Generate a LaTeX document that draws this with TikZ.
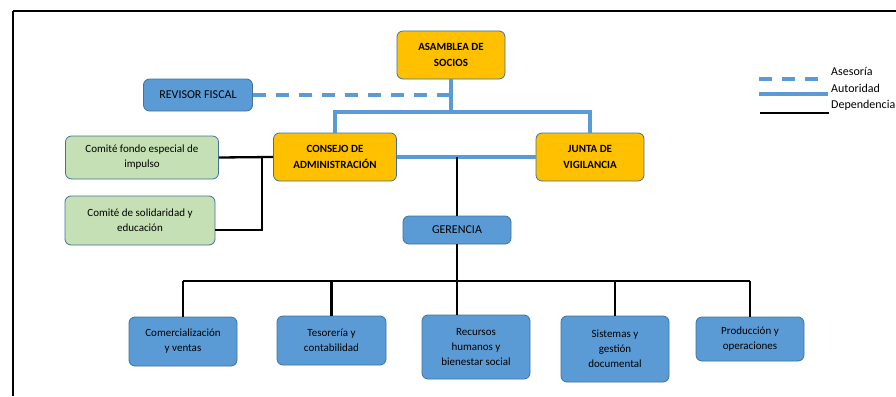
\documentclass[tikz,border=0pt]{standalone}
\usepackage{fontspec}
\setmainfont{Carlito}
\usetikzlibrary{positioning}
\usepackage{xcolor}
\definecolor{oro}{HTML}{FFC000}
\definecolor{azul}{HTML}{5B9BD5}
\definecolor{verde}{HTML}{C5E0B4}
\definecolor{borde}{HTML}{41719C}

\begin{document}
\begin{tikzpicture}[x=1pt,y=-1pt]
      \tikzstyle{caja} = [rectangle, rounded corners=6pt, draw=borde, line width=0.8pt, align=center, inner sep=2pt, font=\fontsize{11}{15}\selectfont]
      \tikzstyle{organo} = [caja, fill=oro, font=\bfseries\fontsize{11}{16.5}\selectfont]
      \tikzstyle{area} = [caja, fill=azul]
      \tikzstyle{comite} = [caja, fill=verde]
      \tikzstyle{autoridad} = [azul, line width=3.2pt]
      \tikzstyle{asesoria} = [azul, line width=3.2pt, dash pattern=on 13pt off 10pt]
      \tikzstyle{dependencia} = [black, line width=2.3pt]

      \useasboundingbox (0,0) rectangle (896,396);
      \draw[line width=2.5pt] (896,11) -- (13,11);
      \draw[line width=1.3pt] (13,11) -- (13,396);

      % organos
      \node[organo, minimum width=108pt, minimum height=48pt] (asamblea) at (451,55) {ASAMBLEA DE\\SOCIOS};
      \node[area, minimum width=109pt, minimum height=32pt, font=\fontsize{12}{15}\selectfont] (revisor) at (198,95) {REVISOR FISCAL};
      \node[organo, minimum width=123pt, minimum height=48pt] (consejo) at (335,157) {CONSEJO DE\\ADMINISTRACIÓN};
      \node[organo, minimum width=108pt, minimum height=48pt] (junta) at (590,157) {JUNTA DE\\VIGILANCIA};
      \node[comite, minimum width=153pt, minimum height=43pt] (fondo) at (142,157.5) {Comité fondo especial de\\impulso};
      \node[comite, minimum width=150pt, minimum height=49pt] (solidaridad) at (140,220.5) {Comité de solidaridad y\\educación};
      \node[area, minimum width=108pt, minimum height=28pt, font=\fontsize{12}{15}\selectfont] (gerencia) at (457,230) {GERENCIA};

      % areas
      \node[area, minimum width=108pt, minimum height=49pt] (comercial) at (183,341.5) {Comercialización\\y ventas};
      \node[area, minimum width=109pt, minimum height=49pt] (tesoreria) at (331.5,340.5) {Tesorería y\\contabilidad};
      \node[area, minimum width=108pt, minimum height=64pt] (recursos) at (476,347) {Recursos\\humanos y\\bienestar social};
      \node[area, minimum width=108pt, minimum height=66pt] (sistemas) at (615,349) {Sistemas y\\gestión\\documental};
      \node[area, minimum width=108pt, minimum height=44pt] (produccion) at (750,339) {Producción y\\operaciones};

      % conexiones
      \coordinate (cruce) at (451,112);
      \draw[autoridad] (asamblea.south) -- (cruce);
      \draw[autoridad] (consejo.north) |- (cruce) -| (junta.north);
      \draw[autoridad] (consejo.east) -- (junta.west);
      \draw[asesoria] (revisor.east) -- (revisor.east -| cruce);

      \coordinate (rama) at (262,157);
      \coordinate (rama2) at (262,230);
      \draw[dependencia] (consejo.west) -- (fondo.east);
      \draw[dependencia] (rama) -- (rama2) -- (rama2 -| solidaridad.east);
      \draw[dependencia] (gerencia.north) -- (gerencia.north |- consejo.east);

      \coordinate (bus) at (457,281);
      \draw[dependencia] (gerencia.south) -- (gerencia.south |- recursos.north);
      \draw[dependencia] (comercial.north |- bus) -- (produccion.north |- bus);
      \foreach \n in {comercial,tesoreria,sistemas,produccion}
        \draw[dependencia] (\n.north) -- (\n.north |- bus);

      % leyenda
      \coordinate (l1) at (759,79);
      \coordinate (l2) at (759,94);
      \coordinate (l3) at (760,113);
      \draw[asesoria] (l1) -- ++(62,0);
      \draw[autoridad] (l2) -- ++(69,0);
      \draw[dependencia] (l3) -- ++(69,0);
      \node[anchor=west, inner sep=0pt, font=\fontsize{12}{14}\selectfont] (tasesoria) at (831,71) {Asesoría};
      \node[anchor=west, inner sep=0pt, font=\fontsize{12}{14}\selectfont] (tautoridad) at (831,88) {Autoridad};
      \node[anchor=west, inner sep=0pt, font=\fontsize{12}{14}\selectfont] (tdependencia) at (831,105) {Dependencia};
\end{tikzpicture}
\end{document}
